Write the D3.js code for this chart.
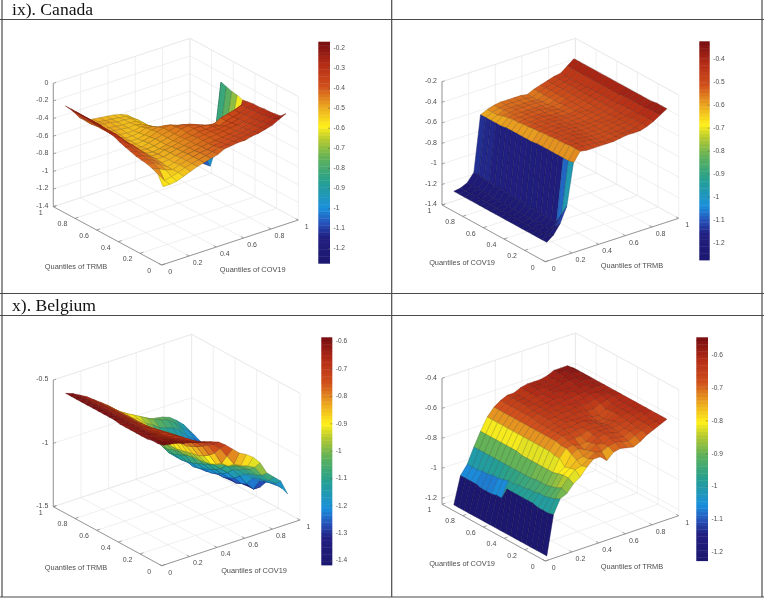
<!DOCTYPE html>
<html><head><meta charset="utf-8">
<script src="https://cdn.jsdelivr.net/npm/d3@7"></script>
<style>html,body{margin:0;padding:0;background:#fff}svg{display:block;filter:blur(.35px)}</style>
</head><body><div id="c"></div>
<script>
// Estimated surface heights, in hundredths. Rows: left-axis quantile .05 to .95; columns: right-axis quantile .05 to .95.
const quantiles=[.05,.1,.15,.2,.25,.3,.35,.4,.45,.5,.55,.6,.65,.7,.75,.8,.85,.9,.95];
const canadaTRMB=[
[-57,-57,-56,-53,-50,-47,-45,-43,-41,-37,-36,-35,-35,-33,-32,-30,-28,-24,-20],
[-46,-56,-54,-52,-49,-47,-45,-43,-41,-39,-38,-37,-36,-35,-34,-32,-30,-27,-26],
[-43,-46,-50,-52,-49,-47,-45,-43,-42,-40,-39,-38,-37,-36,-35,-33,-31,-28,-27],
[-41,-43,-47,-52,-50,-47,-45,-44,-42,-41,-40,-39,-38,-37,-36,-34,-32,-29,-28],
[-40,-42,-46,-51,-50,-48,-46,-44,-43,-41,-40,-39,-38,-37,-36,-35,-33,-30,-28],
[-39,-41,-45,-50,-50,-48,-46,-45,-43,-41,-40,-39,-39,-38,-37,-35,-33,-30,-29],
[-37,-40,-44,-50,-50,-48,-47,-45,-43,-42,-40,-40,-39,-41,-38,-36,-34,-31,-29],
[-35,-38,-43,-50,-51,-50,-48,-46,-44,-42,-40,-40,-41,-42,-38,-36,-34,-31,-30],
[-33,-36,-42,-50,-51,-50,-48,-46,-44,-41,-40,-41,-44,-50,-52,-50,-52,-60,-31],
[-30,-34,-42,-50,-52,-50,-48,-46,-44,-42,-42,-44,-52,-62,-68,-70,-72,-70,-29],
[-29,-33,-42,-50,-52,-51,-49,-46,-44,-43,-46,-52,-62,-72,-78,-80,-80,-76,-28],
[-28,-33,-42,-49,-52,-52,-50,-47,-46,-47,-52,-60,-72,-82,-86,-86,-86,-82,-26],
[-27,-33,-42,-49,-52,-52,-51,-48,-49,-53,-58,-68,-82,-90,-92,-92,-92,-88,-24],
[-27,-32,-41,-49,-51,-52,-52,-50,-51,-55,-60,-72,-88,-94,-96,-96,-98,-98,-104],
[-26,-32,-41,-49,-50,-51,-52,-51,-53,-57,-62,-76,-92,-98,-100,-102,-104,-106,-126],
[-26,-32,-41,-49,-50,-51,-52,-52,-53,-57,-64,-78,-96,-102,-106,-108,-110,-112,-127],
[-25,-32,-41,-49,-49,-50,-52,-52,-53,-57,-66,-82,-100,-106,-110,-112,-114,-116,-127],
[-25,-33,-42,-50,-50,-51,-52,-53,-54,-58,-68,-86,-104,-110,-114,-116,-118,-120,-127],
[-25,-33,-43,-50,-50,-51,-52,-53,-55,-58,-70,-90,-106,-114,-118,-120,-122,-122,-127]];
const canadaCOV=[
[-126,-121,-112,-97,-57,-48,-49,-49,-49,-49,-49,-48,-47,-47,-47,-45,-42,-38,-34],
[-126,-124,-118,-108,-58,-48,-48,-49,-49,-50,-50,-49,-48,-48,-47,-45,-42,-38,-34],
[-126,-125,-123,-118,-58,-48,-48,-48,-49,-50,-50,-49,-49,-48,-47,-45,-42,-38,-34],
[-126,-125,-123,-119,-58,-49,-48,-48,-49,-50,-50,-50,-49,-48,-47,-45,-43,-39,-35],
[-126,-125,-123,-119,-58,-49,-49,-48,-49,-50,-50,-50,-49,-48,-47,-46,-43,-39,-35],
[-126,-125,-123,-119,-58,-49,-49,-49,-49,-50,-50,-50,-49,-49,-47,-46,-43,-39,-35],
[-126,-125,-123,-118,-58,-50,-49,-49,-49,-50,-50,-50,-50,-49,-48,-46,-43,-39,-35],
[-126,-125,-123,-118,-58,-50,-50,-49,-50,-50,-51,-51,-50,-49,-48,-46,-44,-39,-35],
[-126,-125,-123,-118,-59,-51,-50,-50,-50,-51,-51,-51,-50,-49,-48,-46,-44,-40,-35],
[-126,-125,-123,-117,-59,-51,-51,-50,-50,-51,-51,-51,-50,-50,-48,-46,-44,-40,-35],
[-126,-125,-123,-117,-59,-52,-51,-51,-51,-51,-52,-52,-51,-50,-48,-46,-44,-40,-35],
[-126,-125,-123,-117,-59,-52,-52,-51,-51,-52,-52,-52,-51,-50,-48,-46,-44,-40,-35],
[-126,-125,-123,-116,-59,-53,-52,-52,-52,-52,-52,-53,-51,-50,-48,-46,-44,-40,-35],
[-126,-125,-123,-116,-59,-53,-53,-52,-52,-52,-53,-53,-52,-50,-48,-46,-45,-40,-35],
[-126,-125,-122,-116,-60,-54,-53,-53,-53,-53,-53,-54,-52,-50,-48,-46,-45,-40,-35],
[-126,-125,-122,-115,-60,-55,-54,-53,-53,-53,-53,-54,-52,-50,-48,-46,-45,-40,-35],
[-126,-125,-122,-115,-60,-57,-54,-54,-54,-54,-54,-55,-52,-50,-48,-46,-45,-40,-35],
[-126,-125,-122,-114,-60,-57,-55,-54,-54,-54,-54,-55,-52,-50,-48,-46,-45,-40,-35],
[-126,-125,-122,-114,-60,-57,-55,-54,-54,-54,-54,-55,-52,-50,-48,-46,-45,-40,-35]];
const belgiumTRMB=[
[-59,-60,-61,-63,-64,-66,-67,-69,-71,-75,-80,-85,-88,-92,-98,-108,-113,-118,-130],
[-60,-61,-62,-64,-66,-68,-70,-72,-75,-80,-88,-96,-99,-101,-104,-112,-118,-122,-128],
[-60,-62,-63,-65,-67,-69,-71,-74,-78,-86,-96,-100,-101,-104,-108,-114,-120,-124,-128],
[-61,-62,-64,-66,-68,-70,-72,-76,-81,-90,-99,-101,-102,-106,-110,-116,-121,-125,-128],
[-61,-62,-64,-67,-69,-70,-73,-78,-84,-93,-101,-102,-104,-108,-113,-118,-123,-127,-130],
[-61,-62,-65,-67,-70,-71,-74,-80,-86,-95,-102,-103,-106,-110,-115,-122,-130,-136,-136],
[-61,-62,-65,-68,-70,-72,-75,-81,-88,-96,-103,-105,-110,-115,-120,-126,-132,-136,-136],
[-61,-62,-65,-68,-71,-73,-76,-82,-88,-97,-103,-105,-112,-118,-123,-128,-134,-136,-136],
[-61,-62,-65,-68,-71,-74,-77,-83,-89,-98,-104,-106,-114,-120,-125,-130,-134,-136,-136],
[-60,-62,-65,-68,-72,-75,-78,-84,-90,-99,-105,-108,-116,-122,-127,-130,-134,-135,-136],
[-60,-62,-65,-68,-72,-75,-79,-85,-90,-99,-105,-110,-118,-124,-128,-130,-133,-134,-135],
[-60,-62,-65,-68,-72,-76,-80,-85,-90,-100,-106,-112,-119,-125,-128,-130,-132,-133,-134],
[-60,-62,-65,-68,-72,-76,-80,-85,-90,-100,-108,-114,-120,-124,-127,-128,-130,-131,-132],
[-60,-62,-65,-68,-72,-76,-80,-85,-90,-99,-108,-115,-120,-122,-124,-126,-128,-130,-131],
[-60,-62,-65,-68,-72,-76,-80,-85,-89,-96,-106,-112,-116,-118,-120,-122,-126,-128,-130],
[-60,-62,-65,-68,-72,-76,-80,-85,-89,-94,-100,-106,-110,-112,-114,-118,-122,-126,-128],
[-60,-62,-65,-68,-72,-76,-80,-85,-89,-92,-97,-100,-104,-106,-108,-112,-118,-122,-126],
[-60,-62,-65,-68,-72,-76,-80,-85,-88,-91,-94,-97,-100,-102,-104,-108,-114,-118,-124],
[-60,-62,-65,-68,-72,-76,-80,-85,-89,-93,-97,-100,-102,-103,-104,-106,-110,-115,-122]];
const belgiumCOV=[
[-124,-98,-89,-87,-82,-79,-74,-70,-70,-74,-70,-69,-70,-71,-69,-66,-64,-62,-60],
[-124,-99,-91,-85,-80,-76,-75,-72,-69,-70,-68,-67,-68,-69,-67,-65,-63,-62,-60],
[-124,-99,-92,-87,-80,-77,-73,-72,-70,-67,-68,-66,-67,-68,-66,-65,-63,-62,-60],
[-124,-99,-93,-88,-81,-78,-71,-69,-71,-68,-66,-65,-66,-67,-66,-64,-63,-61,-60],
[-124,-98,-93,-89,-82,-74,-69,-68,-70,-69,-66,-65,-65,-66,-65,-64,-62,-61,-60],
[-124,-98,-94,-89,-82,-74,-69,-67,-67,-67,-65,-65,-65,-66,-65,-63,-62,-61,-60],
[-124,-98,-94,-89,-82,-73,-68,-66,-66,-65,-65,-64,-65,-67,-66,-63,-62,-61,-60],
[-124,-98,-95,-90,-82,-73,-68,-66,-65,-65,-64,-64,-65,-67,-67,-63,-62,-61,-60],
[-124,-98,-95,-90,-82,-73,-68,-66,-65,-64,-64,-64,-64,-66,-67,-64,-62,-61,-60],
[-124,-98,-96,-90,-82,-73,-68,-66,-65,-64,-64,-63,-63,-64,-64,-62,-61,-60,-60],
[-124,-106,-96,-90,-82,-73,-68,-66,-64,-64,-63,-63,-62,-62,-62,-61,-60,-60,-60],
[-124,-106,-97,-90,-81,-73,-68,-66,-64,-63,-63,-62,-62,-62,-61,-60,-60,-60,-60],
[-124,-107,-98,-90,-81,-73,-68,-65,-64,-63,-62,-62,-61,-61,-60,-60,-59,-59,-60],
[-124,-107,-98,-90,-81,-73,-68,-65,-64,-63,-62,-61,-61,-60,-60,-59,-59,-59,-60],
[-124,-107,-99,-90,-81,-73,-68,-65,-63,-63,-62,-61,-60,-60,-60,-59,-58,-58,-60],
[-124,-106,-99,-90,-81,-73,-68,-65,-63,-63,-61,-61,-60,-60,-59,-58,-58,-58,-60],
[-124,-106,-100,-90,-81,-73,-68,-65,-63,-63,-61,-60,-60,-60,-59,-58,-57,-57,-60],
[-124,-106,-100,-90,-81,-73,-68,-65,-63,-63,-61,-60,-60,-60,-59,-57,-57,-57,-60],
[-124,-106,-100,-90,-81,-73,-68,-65,-63,-63,-61,-60,-60,-60,-59,-57,-57,-57,-60]];
const axisTicks=[0,.2,.4,.6,.8,1];
const rowTitles=["ix). Canada","x). Belgium"];
const labelTRMB="Quantiles of TRMB", labelCOV="Quantiles of COV19";
const zTicksCanadaA=[0,-.2,-.4,-.6,-.8,-1,-1.2,-1.4];
const zTicksCanadaB=[-.2,-.4,-.6,-.8,-1,-1.2,-1.4];
const zTicksBelgiumA=[-.5,-1,-1.5];
const zTicksBelgiumB=[-.4,-.6,-.8,-1,-1.2];
const barTicksCanadaA=[-.2,-.3,-.4,-.5,-.6,-.7,-.8,-.9,-1,-1.1,-1.2];
const barTicksCanadaB=[-.4,-.5,-.6,-.7,-.8,-.9,-1,-1.1,-1.2];
const barTicksBelgiumA=[-.6,-.7,-.8,-.9,-1,-1.1,-1.2,-1.3,-1.4];
const barTicksBelgiumB=[-.6,-.7,-.8,-.9,-1,-1.1,-1.2];

const panels=[
{grid:canadaTRMB,xLab:labelCOV,yLab:labelTRMB,zT:zTicksCanadaA,bT:barTicksCanadaA,o:[161.7,265],xe:[298.3,220],ye:[53.3,206.7],zd:[-1.4,0],top:83.3,cb:[318.3,330,41.7,263.3,-1.273,-.169],xl:[252.7,270],yl:[76,267]},
{grid:canadaCOV,xLab:labelTRMB,yLab:labelCOV,zT:zTicksCanadaB,bT:barTicksCanadaB,o:[545.3,261.7],xe:[678.7,218.3],ye:[442,205],zd:[-1.4,-.2],top:81.7,cb:[699.3,709.7,41.3,260,-1.274,-.322],xl:[632,266.5],yl:[462,263]},
{grid:belgiumTRMB,xLab:labelCOV,yLab:labelTRMB,zT:zTicksBelgiumA,bT:barTicksBelgiumA,o:[161.7,565.7],xe:[300,520],ye:[53.3,506.7],zd:[-1.5,-.5],top:380,cb:[321.3,332.3,337.3,565,-1.416,-.584],xl:[254,571.5],yl:[76,568]},
{grid:belgiumCOV,xLab:labelTRMB,yLab:labelCOV,zT:zTicksBelgiumB,bT:barTicksBelgiumB,o:[545.3,561],xe:[678.7,515.7],ye:[442,504.3],zd:[-1.24,-.4],top:378.3,cb:[696.3,708,337.3,560.7,-1.226,-.545],xl:[632,567],yl:[462,564]}
];

const ramp=d3.scaleLinear()
 .domain([0,.12,.18,.25,.37,.47,.56,.62,.72,.8,.9,1])
 .range(["#1c1870","#211f80","#2650b8","#1a90dc","#26a090","#5cb05c","#b6ca30","#fff01a","#e89c20","#d0501c","#b42c16","#760c12"]);

const svg=d3.select("#c").append("svg").attr("width",764).attr("height",600).style("font-family","'Liberation Sans',Arial,sans-serif");

// table rules
const hRules=[19.5,293.5,315.5,597];
const vRules=[2,391.7,762];
svg.append("g").selectAll("line").data(hRules).join("line")
 .attr("x1",0).attr("x2",764).attr("y1",d=>d).attr("y2",d=>d).attr("stroke","#4a4a4a").attr("stroke-width",1.2);
svg.append("g").selectAll("line").data(vRules).join("line")
 .attr("x1",d=>d).attr("x2",d=>d).attr("y1",0).attr("y2",597).attr("stroke","#4a4a4a").attr("stroke-width",1.2);
svg.append("g").selectAll("text").data(rowTitles).join("text")
 .attr("x",12).attr("y",(d,i)=>i?311:15).attr("font-family","'Liberation Serif',serif").attr("font-size",17.6).attr("fill","#111").text(d=>d);

panels.forEach(p=>{
 const g=svg.append("g");
 const fx=d3.scaleLinear([0,1],[0,p.xe[0]-p.o[0]]), fxy=d3.scaleLinear([0,1],[0,p.xe[1]-p.o[1]]);
 const fy=d3.scaleLinear([0,1],[0,p.ye[0]-p.o[0]]), fyy=d3.scaleLinear([0,1],[0,p.ye[1]-p.o[1]]);
 const fz=d3.scaleLinear(p.zd,[p.ye[1],p.top]);
 const proj=(x,y,z)=>[p.o[0]+fx(x)+fy(y), p.o[1]+fxy(x)+fyy(y)+(fz(z)-p.ye[1])];
 const line=d3.line();
 const [z0,z1]=p.zd;
 const seg=(a,b,col,w)=>g.append("line").attr("x1",a[0]).attr("y1",a[1]).attr("x2",b[0]).attr("y2",b[1]).attr("stroke",col).attr("stroke-width",w);
 const gridCol="#e8e8e8";
 // grid on floor and back walls
 axisTicks.forEach(t=>{
  seg(proj(t,0,z0),proj(t,1,z0),gridCol,.7);
  seg(proj(0,t,z0),proj(1,t,z0),gridCol,.7);
  seg(proj(t,1,z0),proj(t,1,z1),gridCol,.7);
  seg(proj(1,t,z0),proj(1,t,z1),gridCol,.7);
 });
 p.zT.forEach(t=>{
  seg(proj(0,1,t),proj(1,1,t),gridCol,.7);
  seg(proj(1,1,t),proj(1,0,t),gridCol,.7);
 });
 seg(proj(0,1,z1),proj(1,1,z1),gridCol,.7);
 seg(proj(1,1,z1),proj(1,0,z1),gridCol,.7);
 // axes
 const axCol="#808080";
 seg(proj(0,0,z0),proj(1,0,z0),axCol,.8);
 seg(proj(0,0,z0),proj(0,1,z0),axCol,.8);
 seg(proj(0,1,z0),proj(0,1,z1),axCol,.8);
 axisTicks.forEach(t=>{
  seg(proj(t,0,z0),proj(t,.025,z0),axCol,.7);
  seg(proj(0,t,z0),proj(.025,t,z0),axCol,.7);
 });
 p.zT.forEach(t=>seg(proj(0,1,t),proj(.02,1,t),axCol,.7));
 const txt=(xy,s,anchor,size)=>g.append("text").attr("x",xy[0]).attr("y",xy[1]).attr("text-anchor",anchor).attr("dominant-baseline","middle").attr("font-size",size).attr("fill","#4d4d4d").text(s);
 const fmt=d=>String(+d.toFixed(1));
 axisTicks.forEach(t=>{
  const a=proj(t,0,z0), b=proj(0,t,z0);
  txt([a[0]+8.5,a[1]+7],fmt(t),"middle",7);
  txt([b[0]-12.5,b[1]+6],fmt(t),"middle",7);
 });
 p.zT.forEach(t=>{const a=proj(0,1,t);txt([a[0]-5,a[1]-.5],fmt(t),"end",7);});
 txt(p.xl,p.xLab,"middle",7.4);
 txt(p.yl,p.yLab,"middle",7.4);
 // surface, painted back to front
 const cs=d3.scaleLinear([p.cb[4],p.cb[5]],[0,1]).clamp(true);
 const faces=[];
 for(let i=0;i<quantiles.length-1;i++)for(let j=0;j<quantiles.length-1;j++)faces.push({i,j});
 faces.sort((a,b)=>(b.i+b.j)-(a.i+a.j));
 const V=(i,j)=>proj(quantiles[j],quantiles[i],p.grid[i][j]/100);
 const faceCol=f=>ramp(cs(p.grid[f.i][f.j]/100));
 g.append("g").selectAll("path").data(faces).join("path")
  .attr("d",f=>line([V(f.i,f.j),V(f.i,f.j+1),V(f.i+1,f.j+1),V(f.i+1,f.j)])+"Z")
  .attr("fill",faceCol)
  .attr("stroke",f=>d3.color(faceCol(f)).darker(1.1).formatHex()).attr("stroke-width",.45);
 // colour bar
 const [bx0,bx1,by0,by1,bv0,bv1]=p.cb;
 const by=d3.scaleLinear([bv0,bv1],[by1,by0]);
 const steps=d3.range(64);
 const bv=d3.scaleLinear([0,64],[bv0,bv1]);
 g.append("g").selectAll("rect").data(steps).join("rect")
  .attr("x",bx0).attr("width",bx1-bx0).attr("y",d=>by(bv(d+1))).attr("height",d=>by(bv(d))-by(bv(d+1))+.4)
  .attr("fill",d=>ramp((d+.5)/64));
 p.bT.forEach(t=>{
  seg([bx1-2,by(t)],[bx1,by(t)],"#555",.5);
  txt([bx1+3.5,by(t)],fmt(t),"start",6.6);
 });
});
</script></body></html>
